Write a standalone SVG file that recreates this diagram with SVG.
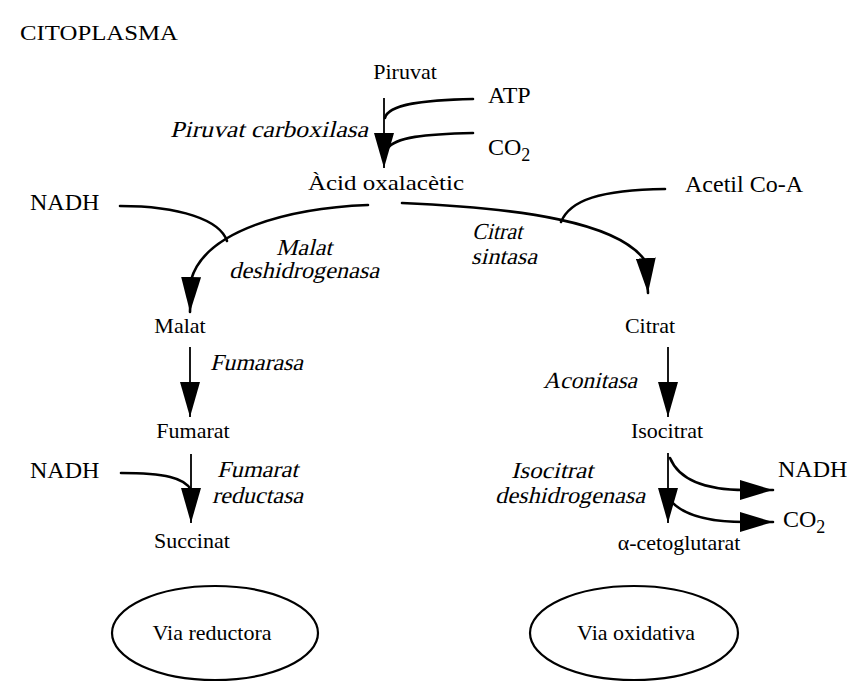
<svg xmlns="http://www.w3.org/2000/svg" width="847" height="682" viewBox="0 0 847 682">
  <style>
    text { font-family: "Liberation Serif", "Times New Roman", serif; font-size: 22px; fill: #000; }
    .big { font-size: 24px; }
    .enz { font-size: 23px; }
    .mid { text-anchor: middle; }
    .end { text-anchor: end; }
    .ln { fill: none; stroke: #000; stroke-width: 2.6; stroke-linecap: round; }
    .thin { fill: none; stroke: #000; stroke-width: 1.8; }
    .oval { fill: none; stroke: #000; stroke-width: 2.2; }
  </style>
  <defs>
    <marker id="head" markerUnits="userSpaceOnUse" markerWidth="36" markerHeight="20" refX="35" refY="10" orient="auto" viewBox="0 0 36 20">
      <path d="M0,0 L35,10 L0,20 Z" fill="#000"/>
    </marker>
    <marker id="headS" markerUnits="userSpaceOnUse" markerWidth="34" markerHeight="20" refX="33" refY="10" orient="auto" viewBox="0 0 34 20">
      <path d="M0,0 L33,10 L0,20 Z" fill="#000"/>
    </marker>
  </defs>

  <text x="20" y="40" textLength="158" lengthAdjust="spacingAndGlyphs">CITOPLASMA</text>

  <!-- connectors -->
  <g id="connectors">
    <!-- Piruvat -> Acid oxalacetic -->
    <line class="thin" x1="384" y1="98" x2="384" y2="168" marker-end="url(#head)"/>
    <path class="ln" d="M473,99 C425,100 388,104 385,118"/>
    <path class="ln" d="M473,133 C425,134 395,137 387,149"/>
    <!-- Acid oxalacetic -> Malat -->
    <path class="ln" d="M368,205 C290,208 205,230 191,280 L190,312" marker-end="url(#head)"/>
    <path class="ln" d="M120,206 C180,206 220,220 227,241"/>
    <!-- Acid oxalacetic -> Citrat -->
    <path class="ln" d="M402,203 C520,208 620,222 646,262 L648,293" marker-end="url(#head)"/>
    <path class="ln" d="M665,189 C600,190 570,200 561,222"/>
    <!-- Malat -> Fumarat -->
    <line class="thin" x1="190" y1="347" x2="190" y2="417" marker-end="url(#head)"/>
    <!-- Fumarat -> Succinat -->
    <line class="thin" x1="191" y1="454" x2="191" y2="523" marker-end="url(#head)"/>
    <path class="ln" d="M121,473 C165,473 185,478 191,490"/>
    <!-- Citrat -> Isocitrat -->
    <line class="thin" x1="668" y1="347" x2="668" y2="417" marker-end="url(#head)"/>
    <!-- Isocitrat -> alpha-cetoglutarat -->
    <line class="thin" x1="668" y1="453" x2="668" y2="523" marker-end="url(#head)"/>
    <path class="ln" d="M670,458 C680,482 710,490 745,490 L773,490" marker-end="url(#headS)"/>
    <path class="ln" d="M670,500 C685,518 715,522 745,522 L773,522" marker-end="url(#headS)"/>
  </g>

  <g id="piruvat"><text class="mid" x="405" y="79">Piruvat</text></g>
  <g id="atp"><text class="big" x="488" y="103">ATP</text></g>
  <g id="co2-in"><text class="big" x="488" y="155">CO<tspan font-size="18" dy="6">2</tspan></text></g>
  <g id="acid-oxalacetic"><text class="mid" x="386" y="190" textLength="156" lengthAdjust="spacingAndGlyphs">Àcid oxalacètic</text></g>
  <g id="acetil-coa"><text class="big" x="685" y="192">Acetil Co-A</text></g>
  <g id="nadh-1"><text class="big" x="30" y="210">NADH</text></g>
  <g id="malat"><text class="mid" x="180" y="333">Malat</text></g>
  <g id="citrat"><text class="mid" x="650" y="333">Citrat</text></g>
  <g id="fumarat"><text class="mid" x="193" y="438">Fumarat</text></g>
  <g id="isocitrat"><text class="mid" x="667" y="438">Isocitrat</text></g>
  <g id="nadh-2"><text class="big" x="30" y="478">NADH</text></g>
  <g id="nadh-out"><text class="big" x="778" y="477">NADH</text></g>
  <g id="co2-out"><text class="big" x="783" y="527">CO<tspan font-size="18" dy="6">2</tspan></text></g>
  <g id="succinat"><text class="mid" x="192" y="548">Succinat</text></g>
  <g id="alfa-cetoglutarat"><text class="mid" x="679" y="550">α-cetoglutarat</text></g>

  <!-- enzyme names, slanted -->
  <g id="piruvat-carboxilasa"><text class="enz" transform="translate(170,137) skewX(-14)" textLength="198" lengthAdjust="spacingAndGlyphs">Piruvat carboxilasa</text></g>
  <g id="malat-deshidrogenasa">
    <text class="enz" transform="translate(276,255) skewX(-14)" textLength="56" lengthAdjust="spacingAndGlyphs">Malat</text>
    <text class="enz" transform="translate(229,278) skewX(-14)" textLength="150" lengthAdjust="spacingAndGlyphs">deshidrogenasa</text>
  </g>
  <g id="citrat-sintasa">
    <text class="enz" transform="translate(472,239) skewX(-14)" textLength="50" lengthAdjust="spacingAndGlyphs">Citrat</text>
    <text class="enz" transform="translate(471,264) skewX(-14)" textLength="66" lengthAdjust="spacingAndGlyphs">sintasa</text>
  </g>
  <g id="fumarasa"><text class="enz" transform="translate(210,370) skewX(-14)" textLength="93" lengthAdjust="spacingAndGlyphs">Fumarasa</text></g>
  <g id="aconitasa"><text class="enz" transform="translate(543,388) skewX(-14)" textLength="94" lengthAdjust="spacingAndGlyphs">Aconitasa</text></g>
  <g id="fumarat-reductasa">
    <text class="enz" transform="translate(217,477) skewX(-14)" textLength="81" lengthAdjust="spacingAndGlyphs">Fumarat</text>
    <text class="enz" transform="translate(212,503) skewX(-14)" textLength="91" lengthAdjust="spacingAndGlyphs">reductasa</text>
  </g>
  <g id="isocitrat-deshidrogenasa">
    <text class="enz" transform="translate(511,478) skewX(-14)" textLength="82" lengthAdjust="spacingAndGlyphs">Isocitrat</text>
    <text class="enz" transform="translate(495,503) skewX(-14)" textLength="150" lengthAdjust="spacingAndGlyphs">deshidrogenasa</text>
  </g>

  <g id="via-reductora">
    <ellipse class="oval" cx="215" cy="633" rx="103" ry="47"/>
    <text class="mid" x="212" y="640">Via reductora</text>
  </g>
  <g id="via-oxidativa">
    <ellipse class="oval" cx="634" cy="633" rx="104" ry="47"/>
    <text class="mid" x="636" y="640">Via oxidativa</text>
  </g>
</svg>
